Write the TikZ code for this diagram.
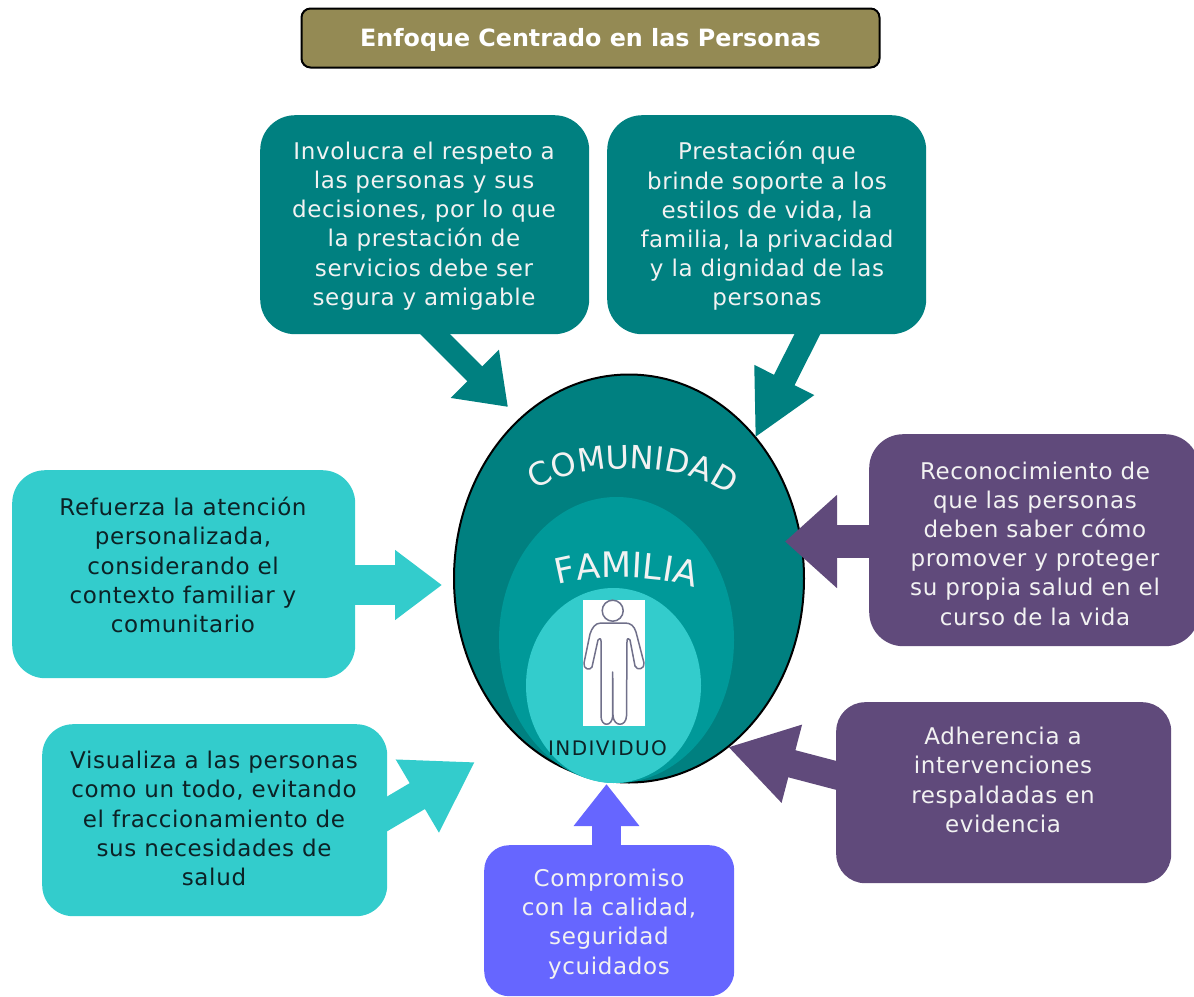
\documentclass[tikz,border=0pt]{standalone}
\usepackage{fontspec}
\setmainfont{DejaVu Sans}
\newfontfamily\cardfont[LetterSpace=2.8]{DejaVu Sans}
\newfontfamily\indfont[LetterSpace=7]{DejaVu Sans}
\newfontfamily\arcfont[FakeStretch=1.0]{DejaVu Sans}
\usetikzlibrary{arrows.meta,decorations.text,shapes.geometric}
\definecolor{olivebar}{HTML}{948A54}
\definecolor{tealdark}{HTML}{008080}
\definecolor{tealmid}{HTML}{009999}
\definecolor{teallight}{HTML}{33CCCC}
\definecolor{plum}{HTML}{604A7B}
\definecolor{periw}{HTML}{6666FF}
\definecolor{cardtext}{HTML}{F2F2F2}
\definecolor{darktext}{HTML}{0C2226}
\definecolor{figline}{HTML}{70708A}
\tikzset{
  x=1pt,y=-1pt,
  card/.style={inner sep=0pt,anchor=north west},
  cardlabel/.style={inner sep=0pt,align=center,font=\cardfont\fontsize{23}{29.2}\selectfont},
  blockarrow/.style n args={4}{draw=#1,line width=#2pt,-{Triangle[length=#3pt,width=#4pt]}},
  curvetext/.style={decorate,decoration={text along path,text align={fit to path},text={#1}}},
  figstroke/.style={line width=1.5pt,draw=figline},
}
\begin{document}
\begin{tikzpicture}
\useasboundingbox (0,0) rectangle (1194,996);
% ovals
\node[draw=black,line width=2pt,fill=tealdark,ellipse,minimum width=350pt,minimum height=408pt,inner sep=0pt] (com) at (629,578.5) {};
\node[fill=tealmid,ellipse,minimum width=235pt,minimum height=286pt,inner sep=0pt] (fam) at (616.5,640) {};
\node[fill=teallight,ellipse,minimum width=175pt,minimum height=195pt,inner sep=0pt] (ind) at (613.5,685.5) {};
% title
\node[draw=black,line width=2pt,fill=olivebar,rounded corners=9pt,minimum width=578pt,minimum height=59pt,inner sep=0pt] (title) at (590.5,38) {};
\node[inner sep=0pt,text=white,font=\bfseries\fontsize{23.8}{28}\selectfont] (titlet) at (590.5,40) {Enfoque Centrado en las Personas};
% arrows, under the cards they leave
\coordinate (s1) at (424,323); \coordinate (t1) at (508,407);
\coordinate (s2) at (812.5,324); \coordinate (t2) at (755,438);
\coordinate (s3) at (880,541.5); \coordinate (t3) at (785,541.5);
\coordinate (s4) at (345,585); \coordinate (t4) at (442,585);
\coordinate (s5) at (370,824); \coordinate (t5) at (475,762);
\coordinate (s6) at (606.5,856); \coordinate (t6) at (606.5,784);
\coordinate (s7) at (850,779); \coordinate (t7) at (728,747);
\draw[blockarrow={tealdark}{21}{47}{65}] (s1) -- (t1);
\draw[blockarrow={tealdark}{23}{65}{62}] (s2) -- (t2);
\draw[blockarrow={plum}{33}{52}{90}] (s3) -- (t3);
\draw[blockarrow={teallight}{40}{47}{67}] (s4) -- (t4);
\draw[blockarrow={teallight}{30}{67}{80}] (s5) -- (t5);
\draw[blockarrow={periw}{29}{42}{63}] (s6) -- (t6);
\draw[blockarrow={plum}{28}{66}{76}] (s7) -- (t7);
% cards
\node[card,fill=tealdark,rounded corners=35pt,minimum width=329pt,minimum height=219pt] (c1) at (260,115) {};
\node[card,fill=tealdark,rounded corners=35pt,minimum width=319pt,minimum height=219pt] (c2) at (607,115) {};
\node[card,fill=plum,rounded corners=34pt,minimum width=330pt,minimum height=212pt] (c3) at (869,434) {};
\node[card,fill=teallight,rounded corners=33pt,minimum width=343pt,minimum height=208pt] (c4) at (12,470) {};
\node[card,fill=teallight,rounded corners=31pt,minimum width=345pt,minimum height=192pt] (c5) at (42,724) {};
\node[card,fill=periw,rounded corners=25pt,minimum width=250pt,minimum height=151pt] (c6) at (484,845) {};
\node[card,fill=plum,rounded corners=29pt,minimum width=335pt,minimum height=181pt] (c7) at (836,702) {};
\node[cardlabel,text=cardtext] (c1t) at (424,226) {Involucra el respeto a\\las personas y sus\\decisiones, por lo que\\la prestación de\\servicios debe ser\\segura y amigable};
\node[cardlabel,text=cardtext] (c2t) at (767,226) {Prestación que\\brinde soporte a los\\estilos de vida, la\\familia, la privacidad\\y la dignidad de las\\personas};
\node[cardlabel,text=cardtext] (c3t) at (1035,543.5) {Reconocimiento de\\que las personas\\deben saber cómo\\promover y proteger\\su propia salud en el\\curso de la vida};
\node[cardlabel,text=darktext] (c4t) at (183,565) {Refuerza la atención\\personalizada,\\considerando el\\contexto familiar y\\comunitario};
\node[cardlabel,text=darktext] (c5t) at (214,818.5) {Visualiza a las personas\\como un todo, evitando\\el fraccionamiento de\\sus necesidades de\\salud};
\node[cardlabel,text=cardtext] (c6t) at (609,924) {Compromiso\\con la calidad,\\seguridad\\ycuidados};
\node[cardlabel,text=cardtext] (c7t) at (1003,780) {Adherencia a\\intervenciones\\respaldadas en\\evidencia};
% person
\node[fill=white,minimum width=62pt,minimum height=126pt,inner sep=0pt] (pic) at (614,663) {};
\draw[figstroke] (612.7,610.7) circle (10.5pt);
\draw[figstroke,line join=round]
  (612,623) -- (601,623) .. controls (595,623) and (592,628) .. (590,634) -- (584,663) .. controls (583,669) and (590,671) .. (592,667) -- (598,640) .. controls (599,638) and (601,638) .. (601,641) -- (601,716) .. controls (601,727) and (612,727) .. (612.7,716) -- (612.7,672) -- (613,716) .. controls (614,727) and (626,727) .. (626.5,716) -- (627,641) .. controls (627,638) and (629,638) .. (630,640) -- (635,666) .. controls (637,671) and (645,669) .. (644,663) -- (636,632) .. controls (634,626) and (631,623) .. (625,623) -- cycle;
% labels
\node[font=\indfont\fontsize{20}{22}\selectfont,text=darktext,inner sep=0pt] (lbl) at (607.5,748) {INDIVIDUO};
\path[curvetext={|\arcfont\fontsize{32}{34}\selectfont\color{cardtext}|COMUNIDAD}] (535,490) .. controls (580,461) and (680,461) .. (725,492);
\path[curvetext={|\arcfont\fontsize{35}{37}\selectfont\color{cardtext}|FAMILIA}] (558,585) .. controls (592,575) and (652,575) .. (688,586);
\end{tikzpicture}
\end{document}
